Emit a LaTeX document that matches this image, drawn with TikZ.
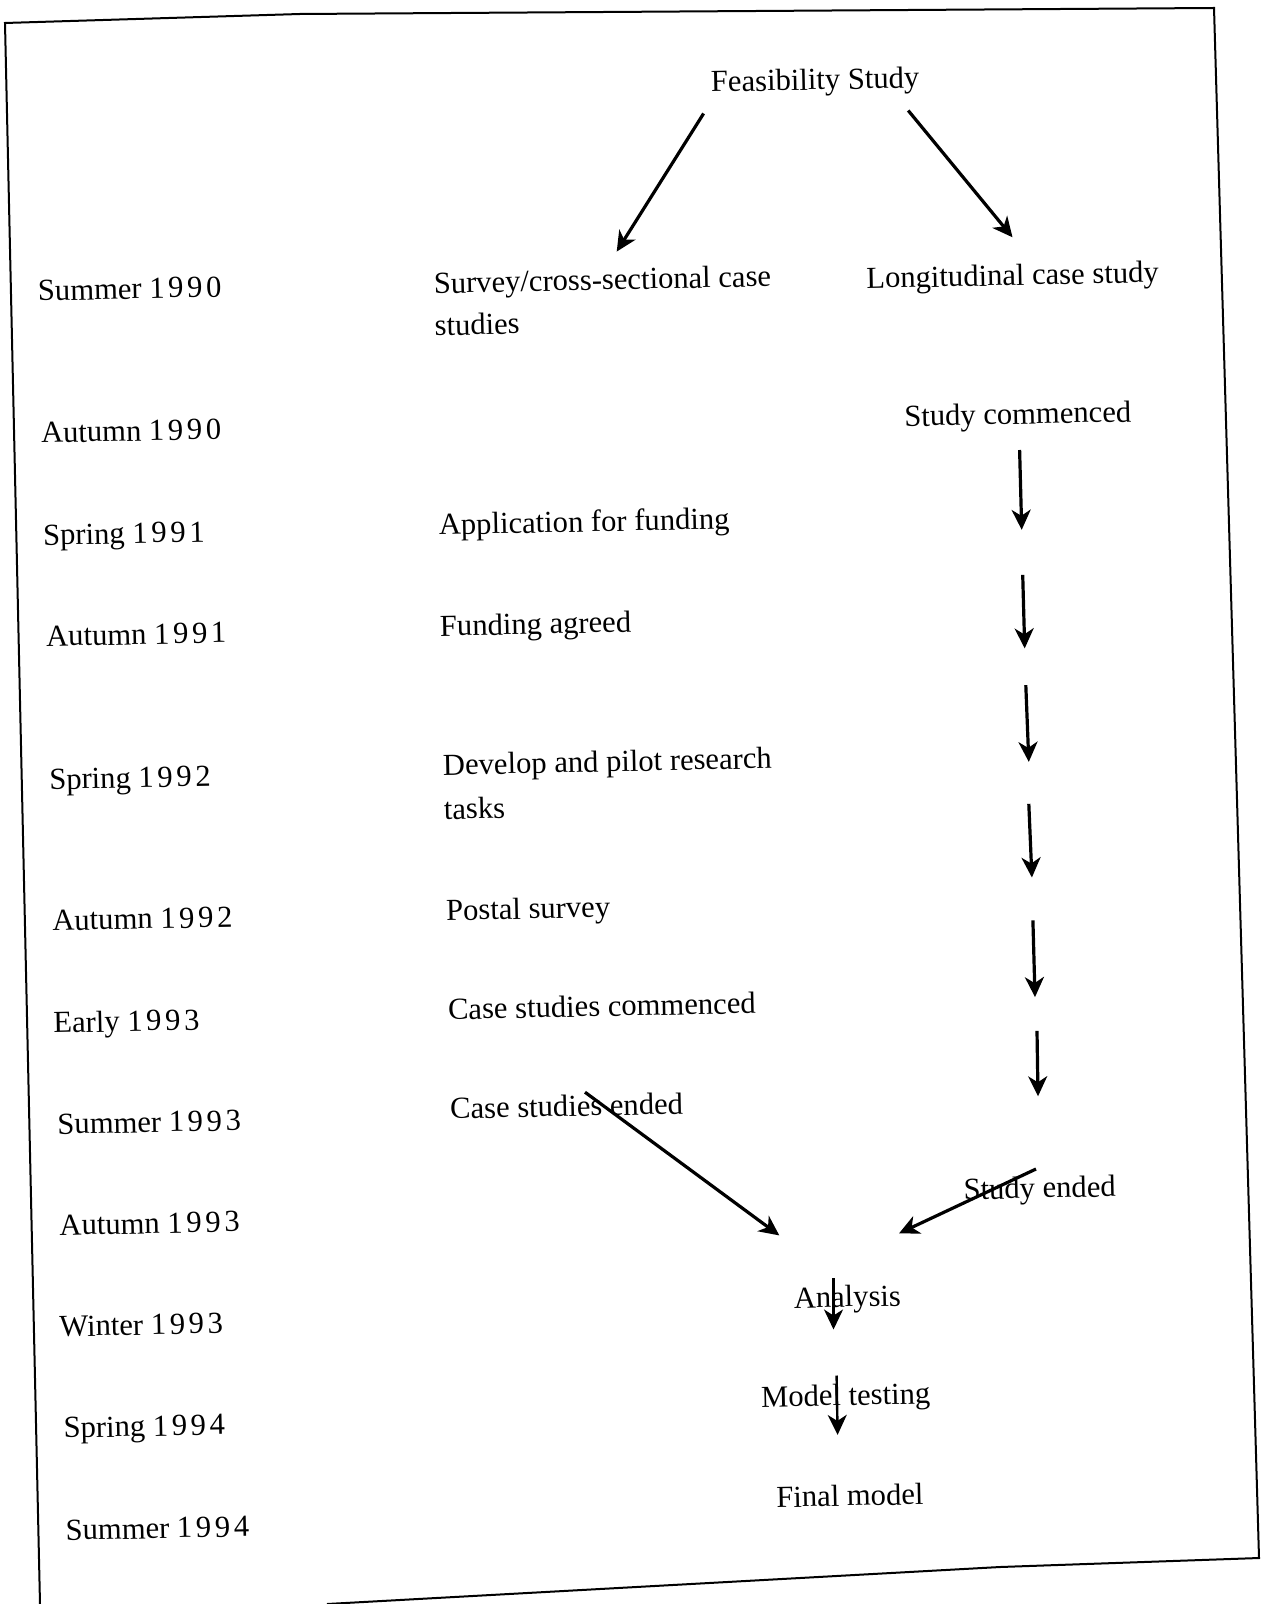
\documentclass[tikz,border=0pt]{standalone}
\usepackage{fontspec}
\setmainfont{Liberation Serif}
\usetikzlibrary{arrows.meta}
% years are set with a little extra tracking
\newcommand{\yr}[1]{{\addfontfeature{LetterSpace=12}#1}}
\begin{document}
\begin{tikzpicture}[x=0.5pt,y=-0.5pt,
  lbl/.style={anchor=base west,inner sep=0pt,rotate=1.2,
    font=\fontsize{15.3}{21}\selectfont},
  flow/.style={-{Stealth[length=10pt,width=9.5pt,inset=3pt]},line width=1.6pt},
  frame/.style={line width=1pt}]
\useasboundingbox[fill=white] (0,0) rectangle (1261,1604);

% page frame
\draw[frame] (40,1604) -- (5,23) -- (300,14) -- (1214,8) -- (1259,1558) -- (1000,1567) -- (327,1604);

% time line
\node[lbl] (t1)  at (37.8,300.7)  {Summer \yr{1990}};
\node[lbl] (t2)  at (40.9,442.8)  {Autumn \yr{1990}};
\node[lbl] (t3)  at (43.0,545.1)  {Spring \yr{1991}};
\node[lbl] (t4)  at (46.0,646.3)  {Autumn \yr{1991}};
\node[lbl] (t5)  at (49.1,789.5)  {Spring \yr{1992}};
\node[lbl] (t6)  at (52.2,930.7)  {Autumn \yr{1992}};
\node[lbl] (t7)  at (53.2,1032.9) {Early \yr{1993}};
\node[lbl] (t8)  at (57.3,1134.2) {Summer \yr{1993}};
\node[lbl] (t9)  at (59.3,1235.4) {Autumn \yr{1993}};
\node[lbl] (t10) at (59.3,1336.7) {Winter \yr{1993}};
\node[lbl] (t11) at (63.4,1437.9) {Spring \yr{1994}};
\node[lbl] (t12) at (65.5,1540.2) {Summer \yr{1994}};

% cross-sectional strand
\node[lbl] (survey) at (433.6,293.5) {\begin{tabular}[t]{@{}l@{}}Survey/cross-sectional case\\studies\end{tabular}};
\node[lbl] (apply)  at (438.7,534.9)  {Application for funding};
\node[lbl] (agreed) at (439.8,636.1)  {Funding agreed};
\node[lbl] (pilot)  at (442.8,775.2)  {\begin{tabular}[t]{@{}l@{}}Develop and pilot research\\[1pt]tasks\end{tabular}};
\node[lbl] (postal) at (445.9,920.4)  {Postal survey};
\node[lbl] (cscom)  at (447.9,1019.6) {Case studies commenced};
\node[lbl] (csend)  at (450.0,1118.8) {Case studies ended};

% longitudinal strand and outcome
\node[lbl] (feas)   at (710.8,92.0)   {Feasibility Study};
\node[lbl] (longi)  at (866.2,288.4)  {Longitudinal case study};
\node[lbl] (lcom)   at (904.1,426.5)  {Study commenced};
\node[lbl] (lend)   at (963.4,1199.6) {Study ended};
\node[lbl] (anal)   at (793.6,1308.0) {Analysis};
\node[lbl] (mtest)  at (760.9,1407.2) {Model testing};
\node[lbl] (final)  at (776.2,1507.4) {Final model};

% arrow end points
\coordinate (fa1) at (703.6,113.5);  \coordinate (fa2) at (616.7,251.6);
\coordinate (fb1) at (908.2,110.5);  \coordinate (fb2) at (1012.5,237.3);
\coordinate (r1a) at (1019.6,450.0); \coordinate (r1b) at (1021.7,529.8);
\coordinate (r2a) at (1022.7,574.8); \coordinate (r2b) at (1024.7,648.4);
\coordinate (r3a) at (1025.8,685.2); \coordinate (r3b) at (1028.8,761.9);
\coordinate (r4a) at (1028.8,803.8); \coordinate (r4b) at (1031.9,877.5);
\coordinate (r5a) at (1032.9,920.4); \coordinate (r5b) at (1035.0,997.1);
\coordinate (r6a) at (1037.0,1030.9);\coordinate (r6b) at (1038.0,1096.3);
\coordinate (ca)  at (585.0,1092.2); \coordinate (cb)  at (779.3,1235.4);
\coordinate (sa)  at (1036.0,1169.0);\coordinate (sb)  at (899.0,1233.4);
\coordinate (aa)  at (833.5,1278.4); \coordinate (ab)  at (833.5,1329.5);
\coordinate (ma)  at (836.6,1375.5); \coordinate (mb)  at (837.6,1434.9);

\draw[flow] (fa1) -- (fa2);
\draw[flow] (fb1) -- (fb2);
\draw[flow] (r1a) -- (r1b);
\draw[flow] (r2a) -- (r2b);
\draw[flow] (r3a) -- (r3b);
\draw[flow] (r4a) -- (r4b);
\draw[flow] (r5a) -- (r5b);
\draw[flow] (r6a) -- (r6b);
\draw[flow] (ca) -- (cb);
\draw[flow] (sa) -- (sb);
\draw[flow,line width=1.2pt] (aa) -- (ab);
\draw[flow,line width=1.2pt] (ma) -- (mb);
\end{tikzpicture}
\end{document}
